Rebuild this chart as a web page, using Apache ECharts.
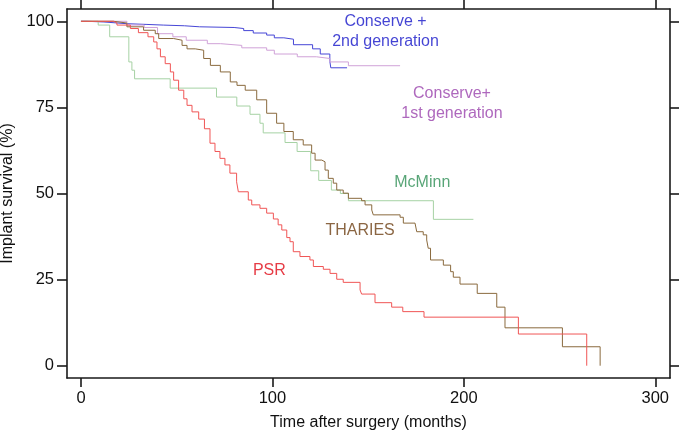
<!DOCTYPE html>
<html>
<head>
<meta charset="utf-8">
<script src="https://cdn.jsdelivr.net/npm/echarts@6/dist/echarts.min.js"></script>
<style>
html,body{margin:0;padding:0;background:#fff;}
#chart{width:679px;height:432px;}
</style>
</head>
<body>
<div id="chart"></div>
<script>
// Kaplan-Meier curves: [time (months), survival (%)]
const conserve2nd = [[0,100],[3,99.8],[12,99.3],[24,99.1],[34,98.9],[43,98.7],[54,98.4],[62,98.2],[80,97.9],[85,97.3],[90,96.6],[97,96],[101,95.2],[106,94.8],[111,93.2],[121,92],[125,90.5],[130,88.4],[130.5,86.5],[139,86.5]];
const conserve1st = [[0,100],[24,98.9],[33,98.2],[40,96.4],[48,95.5],[55,94.5],[66,93.5],[73,93],[84,92.3],[97,91.6],[101,90.5],[113,89.7],[123,89.2],[130,88.2],[139.7,87.1],[166.7,87.1]];
const mcminn = [[0,100],[9,98.9],[15,95.5],[25,88.2],[26.6,85.8],[28,83.3],[46.6,80.6],[70.8,78],[81.4,75.4],[88.3,73],[93.5,70.4],[95.2,67.6],[106.6,64.8],[112.9,62.2],[120,56.6],[124.2,53.8],[130.8,51],[135.5,50],[139.7,47.9],[184.1,42.5],[205,42.5]];
const tharies = [[0,100],[17,99.5],[24,98.4],[32.7,97.4],[38.8,96.4],[40.6,95],[48.4,94.5],[52.8,93],[55.4,92],[59.7,91.6],[64.1,89.2],[67.6,87.2],[72.8,85.3],[78,82.4],[81.5,81.4],[85.8,80],[91.8,77.2],[97,73.3],[102.2,70.4],[106,68],[110.9,65.6],[116.1,64.1],[120.5,61.7],[122.3,59.7],[125.8,59.2],[127.5,56.8],[129.2,54.4],[131.8,53],[133.6,51],[137,50.1],[139.7,48.6],[146.6,47.9],[148.4,46.7],[151.9,45.2],[152.7,43.8],[166.7,43.1],[168.4,41.4],[174.5,40.9],[175.4,38.9],[178.8,38],[180.6,36.5],[181.4,34.1],[182.6,30.7],[189.3,29.2],[193.1,27.3],[194.5,25.7],[198,23.7],[207,21],[217.2,17],[221.5,11],[251.5,5.5],[271.2,0]];
const psr = [[0,100],[17,99.5],[18.8,98.9],[25.8,97.9],[30,96.7],[35,95.5],[38,94],[39.7,92],[41.5,89.7],[44,87.7],[46.7,85.3],[48.4,82.9],[51,80],[53.7,77.5],[55.4,75.6],[58,73.7],[61.5,71.6],[64.5,68.8],[67.4,64.6],[70,62.2],[72.6,60.2],[75.2,58.3],[77.8,55.9],[81.3,53.4],[82.2,50.5],[87.4,48.1],[89.2,46.7],[93.5,45.7],[97,44.3],[100.5,42.6],[103,40.9],[104.9,39.4],[107.5,37.2],[109.2,36],[110.9,33.1],[114.4,31.7],[119.6,30.7],[121.4,28.8],[126.6,28],[130.1,26.8],[133.6,25.1],[137,24.2],[145.8,22],[146.6,20.8],[153.6,18.3],[162.3,17],[168.1,15.7],[179.2,14.1],[228.5,9.2],[264.2,0]];

const xTicks = [0, 100, 200, 300];
const yTicks = [0, 25, 50, 75, 100];

const seriesNames = ['Conserve + 2nd generation', 'Conserve+ 1st generation', 'McMinn', 'THARIES', 'PSR'];
const seriesData = [conserve2nd, conserve1st, mcminn, tharies, psr];
const lineColors = ['#4646d6', '#d0a2d8', '#a6d2a4', '#8a6a3e', '#f05555'];

// annotation labels (text, anchor in data coordinates, colour)
const annotations = [
  {text: 'Conserve +\n2nd generation', at: [159.1, 96.9], color: '#1414c8'},
  {text: 'Conserve+\n1st generation', at: [193.8, 76.2], color: '#9a42ac'},
  {text: 'McMinn', at: [178.3, 53.2], color: '#2e8e55'},
  {text: 'THARIES', at: [145.8, 39.2], color: '#6e4014'},
  {text: 'PSR', at: [98.4, 27.6], color: '#e00a16'}
];

const FONT = '"Liberation Sans", Arial, sans-serif';
const axisLineStyle = {color: '#1a1a1a', width: 1.6};

const chart = echarts.init(document.getElementById('chart'), null, {renderer: 'canvas'});

const series = seriesData.map((d, i) => ({
  name: seriesNames[i],
  type: 'line',
  step: 'end',
  data: d,
  showSymbol: false,
  symbol: 'none',
  lineStyle: {color: lineColors[i], width: 1},
  z: 2 + (i === 4 ? 1 : 0),
  animation: false
}));

series.push({
  type: 'scatter',
  symbolSize: 0,
  silent: true,
  animation: false,
  data: annotations.map(a => ({
    value: a.at,
    label: {
      show: true,
      position: 'inside',
      formatter: a.text,
      color: a.color,
      fontSize: 16,
      lineHeight: 20,
      fontFamily: FONT,
      align: 'center',
      verticalAlign: 'middle'
    }
  })),
  z: 5
});

chart.setOption({
  animation: false,
  backgroundColor: '#fff',
  grid: {left: 67, right: 9, top: 9, bottom: 54, containLabel: false, outerBoundsMode: 'none'},
  xAxis: [
    {
      type: 'value', position: 'bottom',
      min: -7.3, max: 307.7,
      name: 'Time after surgery (months)', nameLocation: 'middle', nameGap: 37,
      nameTextStyle: {fontSize: 16, color: '#111', fontFamily: FONT},
      axisLine: {show: true, onZero: false, lineStyle: axisLineStyle},
      axisTick: {show: true, inside: false, length: 9, customValues: xTicks, lineStyle: axisLineStyle},
      axisLabel: {show: true, customValues: xTicks, margin: 12, fontSize: 16.5, color: '#111', fontFamily: FONT},
      splitLine: {show: false}
    },
    {
      type: 'value', position: 'top',
      min: -7.3, max: 307.7,
      axisLine: {show: true, onZero: false, lineStyle: axisLineStyle},
      axisTick: {show: true, inside: false, length: 9, customValues: xTicks, lineStyle: axisLineStyle},
      axisLabel: {show: false},
      splitLine: {show: false}
    }
  ],
  yAxis: [
    {
      type: 'value', position: 'left',
      min: -3.57, max: 103.57,
      name: 'Implant survival (%)', nameLocation: 'middle', nameGap: 50,
      nameTextStyle: {fontSize: 16, color: '#111', fontFamily: FONT},
      axisLine: {show: true, onZero: false, lineStyle: axisLineStyle},
      axisTick: {show: true, inside: false, length: 10, customValues: yTicks, lineStyle: axisLineStyle},
      axisLabel: {show: true, customValues: yTicks, margin: 13, fontSize: 16.5, color: '#111', fontFamily: FONT},
      splitLine: {show: false}
    },
    {
      type: 'value', position: 'right',
      min: -3.57, max: 103.57,
      axisLine: {show: true, onZero: false, lineStyle: axisLineStyle},
      axisTick: {show: true, inside: false, length: 9, customValues: yTicks, lineStyle: axisLineStyle},
      axisLabel: {show: false},
      splitLine: {show: false}
    }
  ],
  series: series
});
</script>
</body>
</html>
